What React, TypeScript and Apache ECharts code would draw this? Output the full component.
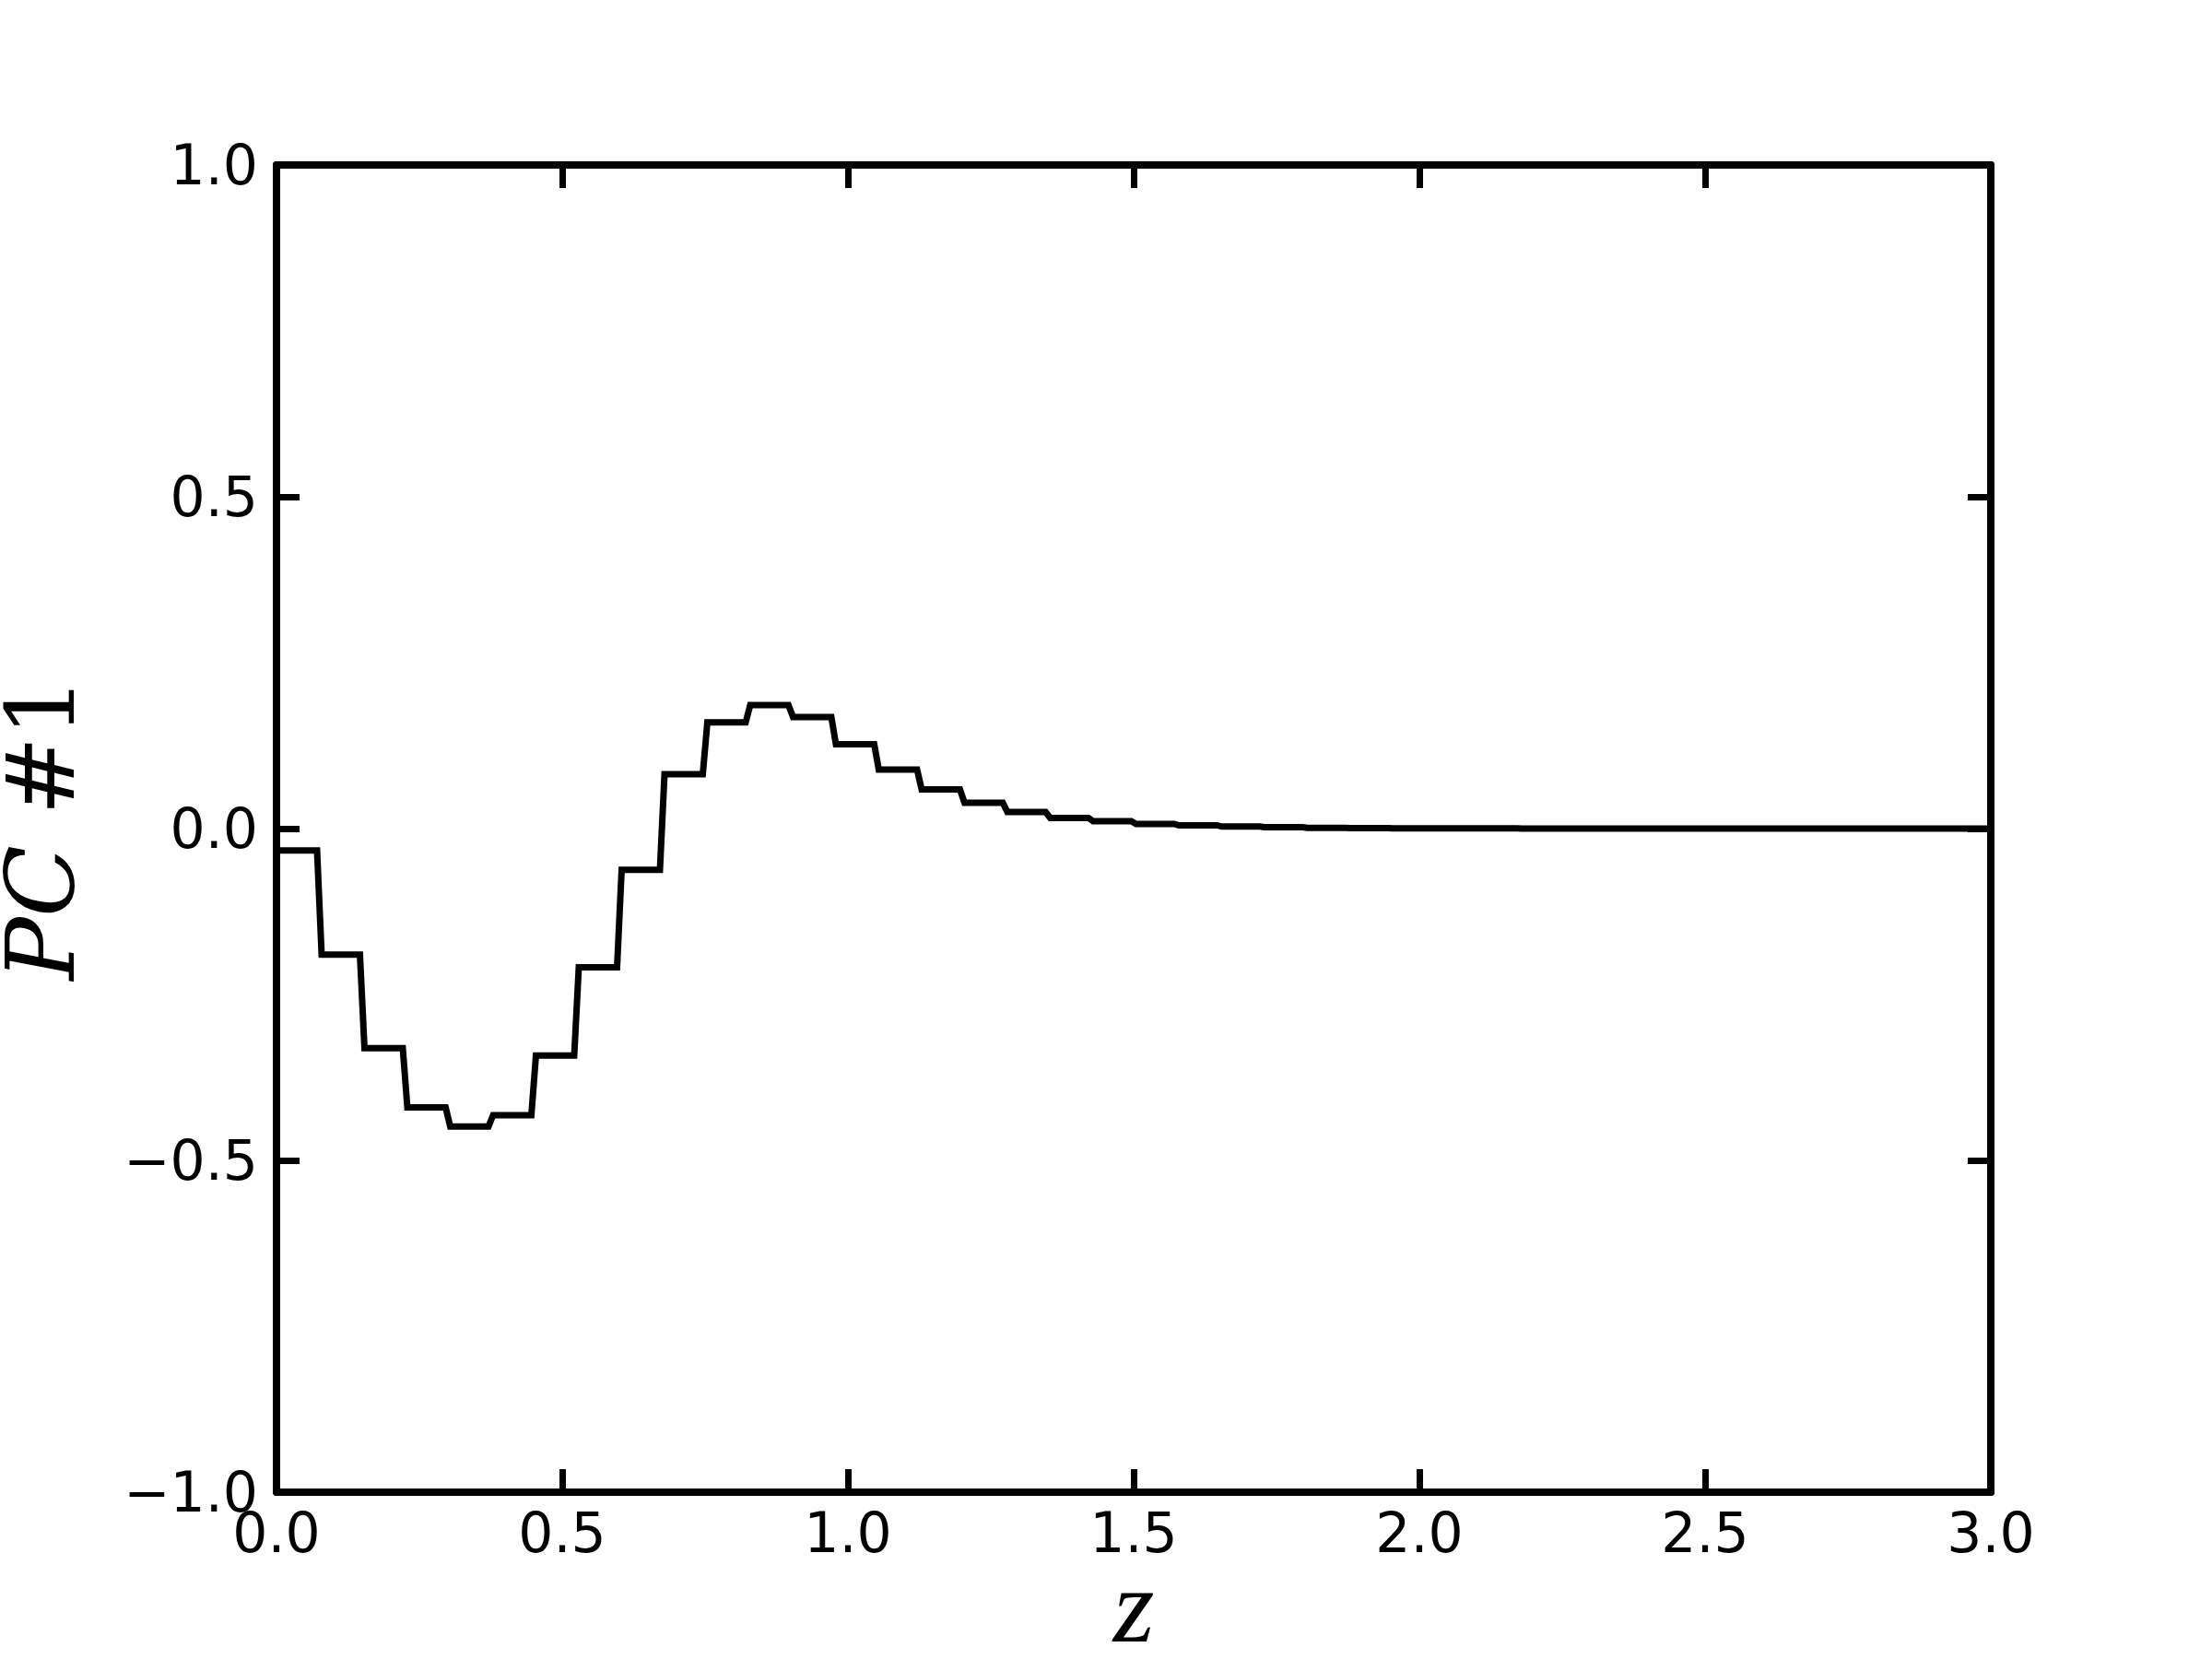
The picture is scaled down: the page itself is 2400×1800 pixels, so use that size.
import React, { useEffect, useRef } from "react";
import * as echarts from "echarts";

const zBinEdges = [
  0, 0.075, 0.15, 0.225, 0.3, 0.375, 0.45, 0.525, 0.6, 0.675, 0.75, 0.825, 0.9, 0.975,
  1.05, 1.125, 1.2, 1.275, 1.35, 1.425, 1.5, 1.575, 1.65, 1.725, 1.8, 1.875, 1.95,
  2.025, 2.1, 2.175, 2.25, 2.325, 2.4, 2.475, 2.55, 2.625, 2.7, 2.775, 2.85, 2.925, 3.0,
];

const pcValues = [
  -0.033, -0.19, -0.331, -0.42, -0.449, -0.432, -0.342, -0.209, -0.062, 0.082,
  0.16, 0.186, 0.168, 0.127, 0.089, 0.059, 0.039, 0.025, 0.016, 0.011,
  0.007, 0.005, 0.003, 0.002, 0.0012, 0.0008, 0.0005, 0.0003, 0.0002, 0.0001,
  0, 0, 0, 0, 0, 0, 0, 0, 0, 0,
];

const xTicks = [0, 0.5, 1.0, 1.5, 2.0, 2.5, 3.0];
const yTicks = [-1.0, -0.5, 0.0, 0.5, 1.0];

const RISER_HALF = 0.004;

function buildStepPoints(): number[][] {
  const pts: number[][] = [];
  for (let i = 0; i < pcValues.length; i++) {
    const a = zBinEdges[i] + (i === 0 ? 0 : RISER_HALF);
    const b = zBinEdges[i + 1] - (i === pcValues.length - 1 ? 0 : RISER_HALF);
    pts.push([a, pcValues[i]]);
    pts.push([b, pcValues[i]]);
  }
  return pts;
}

const fmt = (v: number) => {
  const s = Math.abs(v).toFixed(1);
  return v < -1e-9 ? "\u2212" + s : s;
};

export default function App() {
  const ref = useRef<HTMLDivElement>(null);
  useEffect(() => {
    document.body.style.margin = "0";
    if (!ref.current) return;
    const chart = echarts.init(ref.current, null, { renderer: "svg" });
    const tickFont = { fontFamily: "DejaVu Sans", fontSize: 60, color: "#000" };
    const axisLine = { show: true, onZero: false, lineStyle: { color: "#000", width: 8 } };
    const axisTick = { show: true, inside: true, length: 25, lineStyle: { color: "#000", width: 7 } };
    const xBase = {
      type: "value" as const,
      min: 0,
      max: 3,
      interval: 0.5,
      splitLine: { show: false },
      axisLine,
      axisTick,
    };
    const yBase = {
      type: "value" as const,
      min: -1,
      max: 1,
      interval: 0.5,
      splitLine: { show: false },
      axisLine,
      axisTick,
    };
    chart.setOption({
      animation: false,
      backgroundColor: "#fff",
      grid: {
        left: 300,
        top: 179,
        width: 1860,
        height: 1440,
        containLabel: false,
        outerBoundsMode: "none",
      },
      xAxis: [
        {
          ...xBase,
          position: "bottom",
          axisLabel: {
            ...tickFont,
            margin: 14,
            showMinLabel: true,
            showMaxLabel: true,
            hideOverlap: false,
            formatter: (v: number) => (xTicks.some((t) => Math.abs(t - v) < 1e-9) ? fmt(v) : ""),
          },
          name: "z",
          nameLocation: "middle",
          nameGap: 66,
          nameMoveOverlap: false,
          nameTextStyle: {
            fontFamily: "Liberation Serif",
            fontStyle: "italic",
            fontSize: 115,
            color: "#000",
          },
        },
        { ...xBase, position: "top", axisLabel: { show: false } },
      ],
      yAxis: [
        {
          ...yBase,
          position: "left",
          axisLabel: {
            ...tickFont,
            margin: 20,
            showMinLabel: true,
            showMaxLabel: true,
            hideOverlap: false,
            formatter: (v: number) => (yTicks.some((t) => Math.abs(t - v) < 1e-9) ? fmt(v) : ""),
          },
          name: "{i|PC}{r|\u00a0#1}",
          nameLocation: "middle",
          nameRotate: 90,
          nameGap: 205,
          nameMoveOverlap: false,
          nameTextStyle: {
            color: "#000",
            rich: {
              i: { fontFamily: "DejaVu Serif", fontStyle: "italic", fontSize: 102, color: "#000" },
              r: { fontFamily: "DejaVu Serif", fontSize: 102, color: "#000" },
            },
          },
        },
        { ...yBase, position: "right", axisLabel: { show: false } },
      ],
      series: [
        {
          type: "line",
          xAxisIndex: 0,
          yAxisIndex: 0,
          data: buildStepPoints(),
          showSymbol: false,
          symbol: "none",
          lineStyle: { color: "#000", width: 7, join: "miter" },
          clip: false,
        },
      ],
    });
    return () => chart.dispose();
  }, []);
  return <div ref={ref} style={{ width: 2400, height: 1800 }} />;
}
